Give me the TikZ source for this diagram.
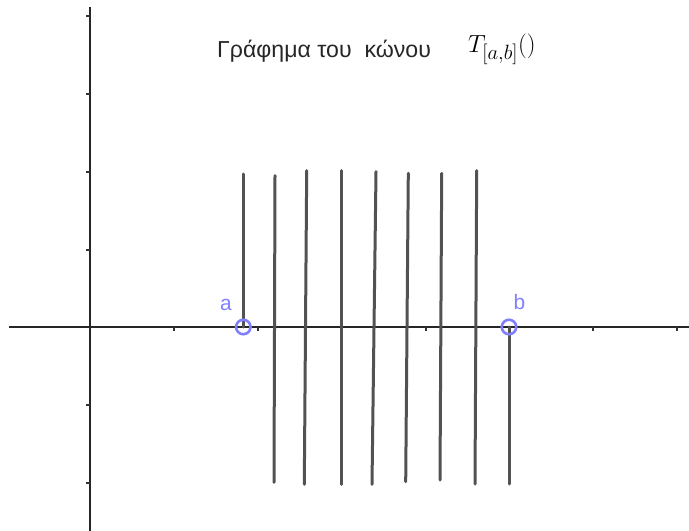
\documentclass[tikz,border=0pt]{standalone}
\usepackage{fontspec}
\setmainfont{Liberation Sans}
\DeclareMathSizes{25}{25}{20.5}{14}
\begin{document}
\begin{tikzpicture}[x=1bp,y=-1bp,
  axis/.style={line width=1.3bp,black!85},
  tick/.style={line width=1.2bp,black!80},
  seg/.style={line width=3bp,black!68,line cap=round},
  pt/.style={circle,draw=blue!50,line width=2.6bp,minimum size=14.5bp,inner sep=0pt},
  plabel/.style={text=blue!50,font=\fontsize{21}{24}\selectfont,inner sep=0pt}]
\useasboundingbox (0,0) rectangle (689,531);
% axes
\draw[axis] (9,327) -- (689,327);
\draw[axis] (90,7) -- (90,531);
\foreach \y in {16,94,172,250,405,483} \draw[tick] (86,\y) -- (90,\y);
\foreach \x in {174,258,342,426,510,593,677} \draw[tick] (\x,327) -- (\x,331);
% segments
\draw[seg] (243.3,174) -- (243.3,327);
\draw[seg] (275,175.7) -- (274,482.3);
\draw[seg] (306.7,170.7) -- (304.3,484.3);
\draw[seg] (341.7,170.7) -- (341.7,484.3);
\draw[seg] (376,171.7) -- (372,484.3);
\draw[seg] (408.3,173.3) -- (405.7,481.7);
\draw[seg] (441.7,173.3) -- (440,480);
\draw[seg] (476.7,170.7) -- (475,484);
\draw[seg] (509,327) -- (509,484);
% points
\node[pt] (a) at (243.3,327) {};
\node[pt] (b) at (509,327) {};
\node[plabel] (la) at (226,305) {a};
\node[plabel] (lb) at (519.5,301.7) {b};
% title
\node[anchor=base west,inner sep=0pt,font=\fontsize{23.2}{26}\selectfont,text=black!85] (t1) at (217,57.5) {Γράφημα του\ \ κώνου};
\node[anchor=base west,inner sep=0pt,font=\fontsize{25}{28}\selectfont] (t2) at (468,53) {$T_{[a,b]}()$};
\end{tikzpicture}
\end{document}
